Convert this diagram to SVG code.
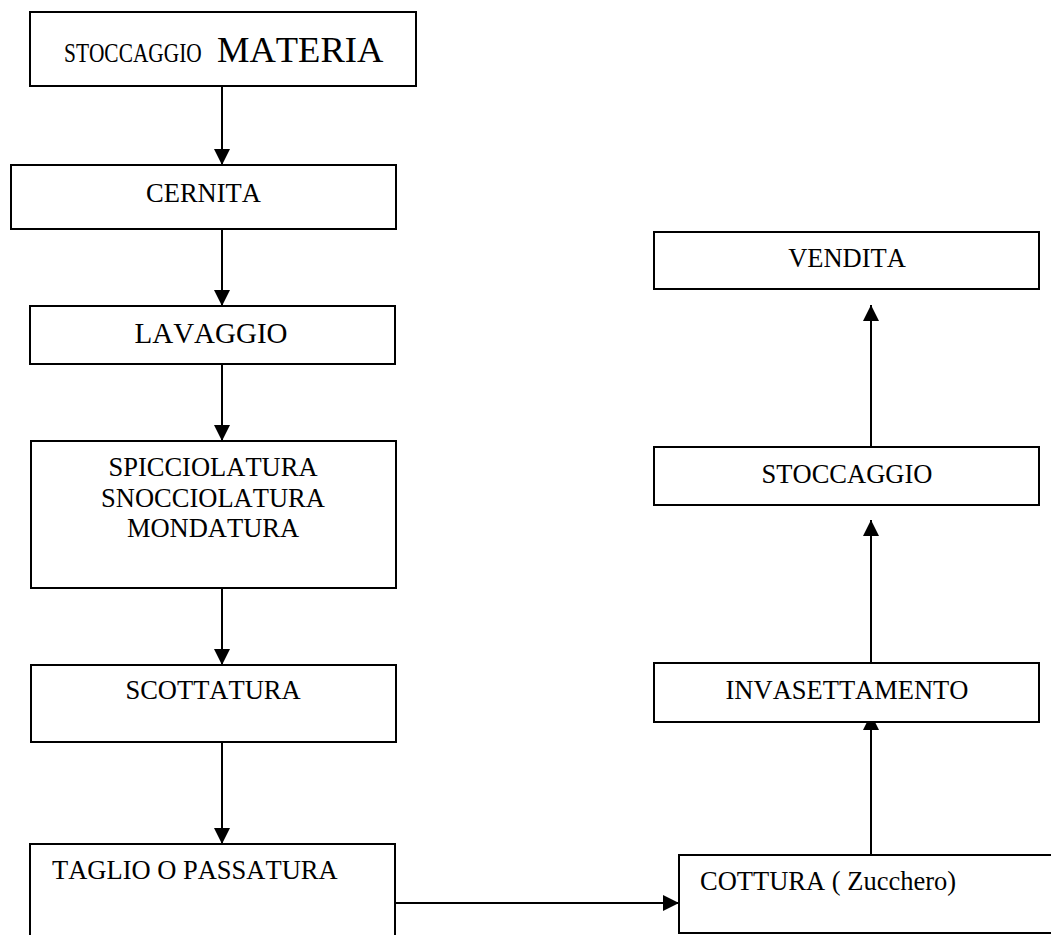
<svg xmlns="http://www.w3.org/2000/svg" width="1051" height="935" viewBox="0 0 1051 935">
  <style>
    .box { fill: #ffffff; stroke: #000000; stroke-width: 2; }
    .wire { fill: none; stroke: #000000; stroke-width: 2; }
    text { font-family: "Liberation Serif", "Times New Roman", serif; fill: #000000; font-size: 26.5px; font-kerning: none; }
    .mid { text-anchor: middle; }
  </style>
  <defs>
    <marker id="head" markerUnits="userSpaceOnUse" markerWidth="16" markerHeight="16" refX="16" refY="8" orient="auto">
      <path d="M0,0 L16,8 L0,16 z" fill="#000000"/>
    </marker>
  </defs>

  <rect width="1051" height="935" fill="#ffffff"/>

  <!-- process flow connectors -->
  <g id="connectors">
    <line class="wire" x1="222" y1="86" x2="222" y2="165" marker-end="url(#head)"/>
    <line class="wire" x1="222" y1="229" x2="222" y2="306" marker-end="url(#head)"/>
    <line class="wire" x1="222" y1="364" x2="222" y2="441" marker-end="url(#head)"/>
    <line class="wire" x1="222" y1="588" x2="222" y2="665" marker-end="url(#head)"/>
    <line class="wire" x1="222" y1="742" x2="222" y2="844" marker-end="url(#head)"/>
    <line class="wire" x1="390" y1="903" x2="679" y2="903" marker-end="url(#head)"/>
    <line class="wire" x1="871" y1="855" x2="871" y2="714" marker-end="url(#head)"/>
    <line class="wire" x1="871" y1="663" x2="871" y2="520" marker-end="url(#head)"/>
    <line class="wire" x1="871" y1="447" x2="871" y2="305" marker-end="url(#head)"/>
  </g>

  <g id="stoccaggio-materia">
    <rect class="box" x="30" y="12" width="386" height="74"/>
    <!-- narrower face for the first word -->
    <text transform="translate(64,62) scale(0.807,1)" x="0" y="0">STOCCAGGIO</text>
    <text x="217" y="62" style="font-size:36.5px">MATERIA</text>
  </g>

  <g id="cernita">
    <rect class="box" x="11" y="165" width="385" height="64"/>
    <text x="203.5" y="202" class="mid">CERNITA</text>
  </g>

  <g id="lavaggio">
    <rect class="box" x="30" y="306" width="365" height="58"/>
    <text x="211" y="343" class="mid" style="font-size:29px">LAVAGGIO</text>
  </g>

  <g id="spicciolatura">
    <rect class="box" x="31" y="441" width="365" height="147"/>
    <text x="213" y="476" class="mid">SPICCIOLATURA</text>
    <text x="213" y="507" class="mid">SNOCCIOLATURA</text>
    <text x="213" y="537" class="mid">MONDATURA</text>
  </g>

  <g id="scottatura">
    <rect class="box" x="31" y="665" width="365" height="77"/>
    <text x="213" y="699" class="mid">SCOTTATURA</text>
  </g>

  <g id="taglio">
    <rect class="box" x="30" y="844" width="365" height="110"/>
    <text x="52" y="879">TAGLIO O PASSATURA</text>
  </g>

  <g id="cottura">
    <rect class="box" x="679" y="855" width="390" height="78"/>
    <text x="700" y="890">COTTURA ( Zucchero)</text>
  </g>

  <g id="invasettamento">
    <rect class="box" x="654" y="663" width="385" height="59"/>
    <text x="847" y="699" class="mid">INVASETTAMENTO</text>
  </g>

  <g id="stoccaggio">
    <rect class="box" x="654" y="447" width="385" height="58"/>
    <text x="847" y="483" class="mid">STOCCAGGIO</text>
  </g>

  <g id="vendita">
    <rect class="box" x="654" y="232" width="385" height="57"/>
    <text x="847" y="267" class="mid">VENDITA</text>
  </g>
</svg>
